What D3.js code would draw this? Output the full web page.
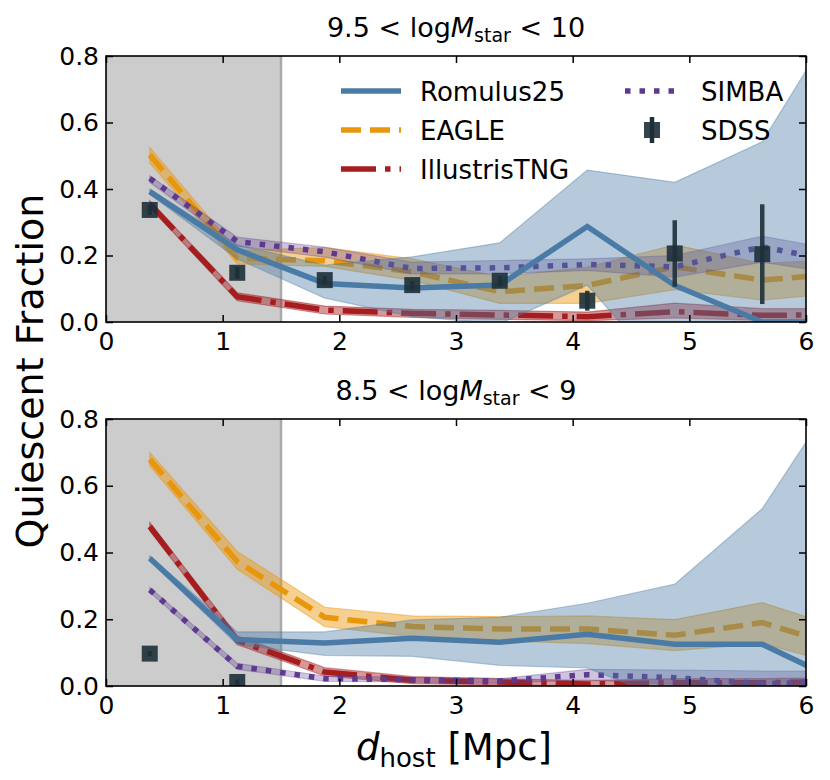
<!DOCTYPE html>
<html>
<head>
<meta charset="utf-8">
<script src="https://cdn.jsdelivr.net/npm/d3@7"></script>
<style>
  body { margin: 0; background: #fff; }
  svg { font-family: "DejaVu Sans", sans-serif; }
</style>
</head>
<body>
<script>
// bin centres in Mpc (last bin sits past the axis edge and is clipped)
const binCenters = [0.375, 1.125, 1.875, 2.625, 3.375, 4.125, 4.875, 5.625, 6.375];

// 9.5 < log M* < 10
const romHi = [0.392, 0.217, 0.116, 0.102, 0.111, 0.287, 0.110, 0.000, 0.000];
const romHiLo = [0.384, 0.190, 0.072, 0.016, -0.005, 0.111, -0.190, -0.200, -0.200];
const romHiUp = [0.400, 0.232, 0.171, 0.196, 0.238, 0.457, 0.420, 0.542, 0.970];
const eagleHi = [0.502, 0.192, 0.184, 0.151, 0.091, 0.110, 0.166, 0.126, 0.148];
const eagleHiLo = [0.478, 0.175, 0.167, 0.125, 0.056, 0.056, 0.097, 0.066, 0.090];
const eagleHiUp = [0.525, 0.215, 0.224, 0.190, 0.136, 0.165, 0.232, 0.176, 0.190];
const tngHi = [0.355, 0.076, 0.036, 0.026, 0.021, 0.016, 0.031, 0.020, 0.022];
const tngHiLo = [0.345, 0.064, 0.024, 0.014, 0.008, 0.004, 0.012, 0.005, 0.006];
const tngHiUp = [0.365, 0.088, 0.048, 0.038, 0.035, 0.030, 0.057, 0.040, 0.040];
const simbaHi = [0.432, 0.242, 0.211, 0.161, 0.163, 0.173, 0.166, 0.226, 0.175];
const simbaHiLo = [0.420, 0.228, 0.195, 0.145, 0.145, 0.155, 0.135, 0.180, 0.140];
const simbaHiUp = [0.440, 0.255, 0.225, 0.180, 0.185, 0.190, 0.200, 0.258, 0.210];
const sdssHiX = [0.375, 1.125, 1.875, 2.625, 3.375, 4.125, 4.875, 5.625];
const sdssHi = [0.337, 0.148, 0.126, 0.111, 0.124, 0.064, 0.206, 0.204];
const sdssHiErr = [0.015, 0.018, 0.012, 0.012, 0.015, 0.030, 0.100, 0.150];

// 8.5 < log M* < 9
const romLo = [0.383, 0.139, 0.129, 0.143, 0.131, 0.155, 0.125, 0.125, 0.000];
const romLoLo = [0.376, 0.124, 0.092, 0.089, 0.062, 0.054, -0.050, -0.060, -0.060];
const romLoUp = [0.390, 0.162, 0.162, 0.198, 0.206, 0.248, 0.305, 0.531, 0.930];
const eagleLo = [0.679, 0.373, 0.206, 0.178, 0.171, 0.171, 0.152, 0.190, 0.110];
const eagleLoLo = [0.660, 0.350, 0.178, 0.148, 0.135, 0.127, 0.106, 0.127, 0.057];
const eagleLoUp = [0.700, 0.403, 0.236, 0.210, 0.208, 0.210, 0.199, 0.250, 0.166];
const tngLo = [0.478, 0.137, 0.042, 0.017, 0.012, 0.006, 0.010, 0.010, 0.014];
const tngLoLo = [0.466, 0.124, 0.030, 0.007, 0.003, 0.000, 0.000, 0.000, 0.003];
const tngLoUp = [0.490, 0.150, 0.055, 0.028, 0.022, 0.016, 0.022, 0.022, 0.025];
const simbaLo = [0.288, 0.059, 0.022, 0.019, 0.015, 0.034, 0.025, 0.007, 0.013];
const simbaLoLo = [0.281, 0.050, 0.014, 0.012, 0.008, 0.018, 0.005, 0.000, 0.000];
const simbaLoUp = [0.295, 0.068, 0.030, 0.026, 0.022, 0.050, 0.048, 0.045, 0.045];
const sdssLoX = [0.375, 1.125];
const sdssLo = [0.097, 0.012];
const sdssLoErr = [0.008, 0.008];

const xTicks = [0, 1, 2, 3, 4, 5, 6];
const yTicks = [0.0, 0.2, 0.4, 0.6, 0.8];
const hostCut = 1.5; // shaded region ends here

// layout
const width = 830;
const height = 780;
const plotLeft = 106;
const plotRight = 806;
const tickLen = 7;
const tickFont = 25;
const lw = 5.5;

// line styles, in draw order (Romulus band goes over the others)
const styles = {
  EAGLE: { color: '#e8960a', dash: '20,9', bandAlpha: 0.45 },
  IllustrisTNG: { color: '#a51d1f', dash: '35,9,5.5,9', bandAlpha: 0.45 },
  SIMBA: { color: '#5d3a8f', dash: '5.5,9', bandAlpha: 0.3 },
  Romulus25: { color: '#4a7ba6', dash: null, bandAlpha: 0.4 }
};
const sdssColor = '#1d3038';

const svg = d3.select('body')
  .append('svg')
  .attr('width', width)
  .attr('height', height);

const xScale = d3.scaleLinear()
  .domain([0, 6])
  .range([plotLeft, plotRight]);

const makeRows = (mid, lo, up) => binCenters.map((d, i) => ({ x: d, y: mid[i], lo: lo[i], up: up[i] }));

const panels = [
  {
    top: 56, bottom: 322, title: ['9.5 < log', '10'],
    series: {
      EAGLE: makeRows(eagleHi, eagleHiLo, eagleHiUp),
      IllustrisTNG: makeRows(tngHi, tngHiLo, tngHiUp),
      SIMBA: makeRows(simbaHi, simbaHiLo, simbaHiUp),
      Romulus25: makeRows(romHi, romHiLo, romHiUp)
    },
    sdss: sdssHiX.map((d, i) => ({ x: d, y: sdssHi[i], err: sdssHiErr[i] }))
  },
  {
    top: 419, bottom: 686, title: ['8.5 < log', '9'],
    series: {
      EAGLE: makeRows(eagleLo, eagleLoLo, eagleLoUp),
      IllustrisTNG: makeRows(tngLo, tngLoLo, tngLoUp),
      SIMBA: makeRows(simbaLo, simbaLoLo, simbaLoUp),
      Romulus25: makeRows(romLo, romLoLo, romLoUp)
    },
    sdss: sdssLoX.map((d, i) => ({ x: d, y: sdssLo[i], err: sdssLoErr[i] }))
  }
];

/************************************************************************
  draw each panel
************************************************************************/
panels.forEach((p, pi) => {
  const yScale = d3.scaleLinear()
    .domain([0, 0.8])
    .range([p.bottom, p.top]);

  const clipId = `clip${pi}`;
  svg.append('clipPath')
    .attr('id', clipId)
    .append('rect')
    .attr('x', plotLeft)
    .attr('y', p.top)
    .attr('width', plotRight - plotLeft)
    .attr('height', p.bottom - p.top);

  const g = svg.append('g').attr('clip-path', `url(#${clipId})`);

  // shaded host region
  g.append('rect')
    .attr('x', xScale(0))
    .attr('y', p.top)
    .attr('width', xScale(hostCut) - xScale(0))
    .attr('height', p.bottom - p.top)
    .attr('fill', '#cccccc');
  g.append('line')
    .attr('x1', xScale(hostCut)).attr('x2', xScale(hostCut))
    .attr('y1', p.top).attr('y2', p.bottom)
    .attr('stroke', '#aaaaaa')
    .attr('stroke-width', 2.5);

  const band = d3.area()
    .x(d => xScale(d.x))
    .y0(d => yScale(d.lo))
    .y1(d => yScale(d.up));
  const line = d3.line()
    .x(d => xScale(d.x))
    .y(d => yScale(d.y));

  Object.keys(styles).forEach(name => {
    const s = styles[name];
    const rows = p.series[name];
    g.append('path')
      .attr('d', band(rows))
      .attr('fill', s.color)
      .attr('fill-opacity', s.bandAlpha)
      .attr('stroke', s.color)
      .attr('stroke-opacity', s.bandAlpha)
      .attr('stroke-width', 1.2);
    g.append('path')
      .attr('d', line(rows))
      .attr('fill', 'none')
      .attr('stroke', s.color)
      .attr('stroke-width', lw)
      .attr('stroke-dasharray', s.dash);
  });

  // SDSS points with error bars
  g.selectAll('.err')
    .data(p.sdss)
    .enter()
    .append('line')
    .attr('x1', d => xScale(d.x)).attr('x2', d => xScale(d.x))
    .attr('y1', d => yScale(d.y - d.err)).attr('y2', d => yScale(d.y + d.err))
    .attr('stroke', sdssColor)
    .attr('stroke-opacity', 0.9)
    .attr('stroke-width', 4.5);
  g.selectAll('.sq')
    .data(p.sdss)
    .enter()
    .append('rect')
    .attr('x', d => xScale(d.x) - 8)
    .attr('y', d => yScale(d.y) - 8)
    .attr('width', 16)
    .attr('height', 16)
    .attr('fill', sdssColor)
    .attr('fill-opacity', 0.9);

  // axes, ticks pointing in
  const ax = svg.append('g');
  ax.append('g')
    .attr('transform', `translate(0,${p.bottom})`)
    .call(d3.axisBottom(xScale).tickValues(xTicks).tickFormat(d3.format('d')).tickSize(-tickLen).tickPadding(10));
  ax.append('g')
    .attr('transform', `translate(0,${p.top})`)
    .call(d3.axisTop(xScale).tickValues(xTicks).tickFormat('').tickSize(-tickLen));
  ax.append('g')
    .attr('transform', `translate(${plotLeft},0)`)
    .call(d3.axisLeft(yScale).tickValues(yTicks).tickFormat(d3.format('.1f')).tickSize(-tickLen).tickPadding(7));
  ax.append('g')
    .attr('transform', `translate(${plotRight},0)`)
    .call(d3.axisRight(yScale).tickValues(yTicks).tickFormat('').tickSize(-tickLen));
  ax.selectAll('.domain').remove();
  ax.selectAll('.tick line').attr('stroke-width', 1.5);
  ax.selectAll('g')
    .attr('font-size', tickFont)
    .attr('font-family', '"DejaVu Sans", sans-serif');
  ax.selectAll('text').attr('fill', '#000');

  svg.append('rect')
    .attr('x', plotLeft)
    .attr('y', p.top)
    .attr('width', plotRight - plotLeft)
    .attr('height', p.bottom - p.top)
    .attr('fill', 'none')
    .attr('stroke', '#000')
    .attr('stroke-width', 1.6);

  // panel title with math-style M_star
  const t = svg.append('text')
    .attr('x', (plotLeft + plotRight) / 2)
    .attr('y', p.top - 19)
    .attr('text-anchor', 'middle')
    .attr('font-size', 27);
  t.append('tspan').text(p.title[0]);
  t.append('tspan').attr('font-style', 'italic').text('M');
  t.append('tspan').attr('font-size', 19).attr('dy', 5).text('star');
  t.append('tspan').attr('dy', -5).text(` < ${p.title[1]}`);
});

/************************************************************************
  axis labels
************************************************************************/
svg.append('text')
  .text('Quiescent Fraction')
  .attr('font-size', 38)
  .attr('text-anchor', 'middle')
  .attr('transform', `translate(43, ${(56 + 686) / 2}) rotate(-90)`);

const xl = svg.append('text')
  .attr('x', 454)
  .attr('y', 760)
  .attr('text-anchor', 'middle')
  .attr('font-size', 37);
xl.append('tspan').attr('font-style', 'italic').text('d');
xl.append('tspan').attr('font-size', 26).attr('dy', 7).text('host');
xl.append('tspan').attr('dy', -7).text(' [Mpc]');

/************************************************************************
  legend (top panel)
************************************************************************/
const legend = svg.append('g').attr('font-size', 26);
const legendItems = [
  { name: 'Romulus25', x: 341, y: 91 },
  { name: 'EAGLE', x: 341, y: 130 },
  { name: 'IllustrisTNG', x: 341, y: 169 },
  { name: 'SIMBA', x: 625, y: 91 }
];
legendItems.forEach(item => {
  const s = styles[item.name];
  legend.append('line')
    .attr('x1', item.x).attr('x2', item.x + (item.name === 'SIMBA' ? 52 : 60))
    .attr('y1', item.y).attr('y2', item.y)
    .attr('stroke', s.color)
    .attr('stroke-width', lw)
    .attr('stroke-dasharray', s.dash);
  legend.append('text')
    .attr('x', item.name === 'SIMBA' ? 701 : 420)
    .attr('y', item.y + 9.5)
    .text(item.name);
});
legend.append('line')
  .attr('x1', 652).attr('x2', 652)
  .attr('y1', 117).attr('y2', 143)
  .attr('stroke', sdssColor)
  .attr('stroke-width', 4.5);
legend.append('rect')
  .attr('x', 644).attr('y', 122)
  .attr('width', 16).attr('height', 16)
  .attr('fill', sdssColor)
  .attr('fill-opacity', 0.9);
legend.append('text')
  .attr('x', 701)
  .attr('y', 139.5)
  .text('SDSS');
</script>
</body>
</html>
